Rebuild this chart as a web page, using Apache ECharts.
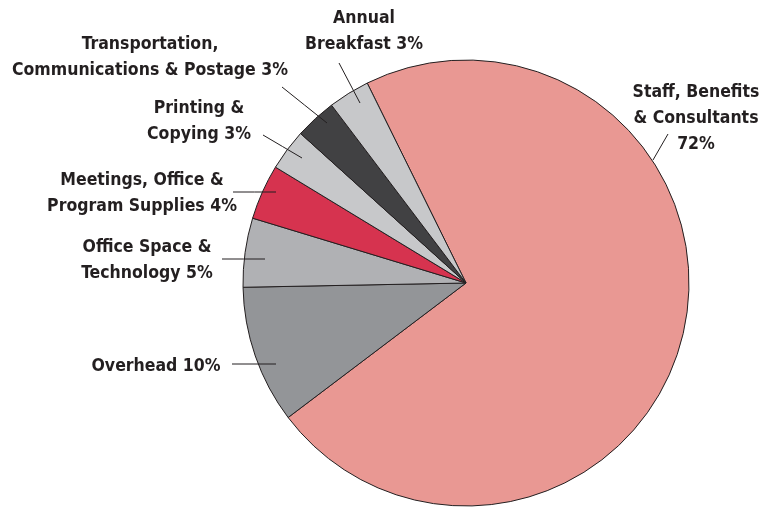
<!DOCTYPE html>
<html>
<head>
<meta charset="utf-8">
<script src="https://cdn.jsdelivr.net/npm/echarts@6/dist/echarts.min.js"></script>
<style>
  html, body { margin: 0; padding: 0; background: #fff; }
  #chart { width: 772px; height: 508px; }
</style>
</head>
<body>
<div id="chart"></div>
<script>
// budget shares, in percent, clockwise from the top
const categories = [
  "Staff, Benefits & Consultants",
  "Overhead",
  "Office Space & Technology",
  "Meetings, Office & Program Supplies",
  "Printing & Copying",
  "Transportation, Communications & Postage",
  "Annual Breakfast"
];
const shares = [72, 10, 5, 4, 3, 3, 3];
// label text as it is broken in the picture (the value is appended)
const labelText = [
  "Staff, Benefits\n& Consultants\n",
  "Overhead ",
  "Office Space &\nTechnology ",
  "Meetings, Office &\nProgram Supplies ",
  "Printing &\nCopying ",
  "Transportation,\nCommunications & Postage ",
  "Annual\nBreakfast "
];
const colors = ["#e99893", "#939598", "#b0b1b4", "#d6334f", "#c7c8ca", "#414143", "#c7c8ca"];

// where each label sits and where its pointer line runs (pixels)
const labelPlace = [
  { x: 696, y: 118, line: [[668, 134], [653, 160]] },
  { x: 156, y: 366, line: [[232, 364], [276, 364]] },
  { x: 147, y: 260, line: [[222, 259], [265, 259]] },
  { x: 142, y: 193, line: [[233, 192], [276, 192]] },
  { x: 199, y: 121, line: [[263, 135], [302, 158]] },
  { x: 150, y: 57, line: [[282, 87], [327, 123]] },
  { x: 364, y: 31, line: [[339, 63], [360, 103]] }
];

const chart = echarts.init(document.getElementById("chart"));

const pieBase = {
  type: "pie",
  center: [466, 283],
  radius: 223,
  startAngle: 116.3,
  clockwise: true,
  avoidLabelOverlap: false,
  silent: true
};

const option = {
  animation: false,
  backgroundColor: "#ffffff",
  series: [
    // the slices
    Object.assign({}, pieBase, {
      z: 2,
      itemStyle: { borderColor: "#231f20", borderWidth: 1 },
      label: { show: false },
      labelLine: { show: false },
      data: categories.map((name, i) => ({
        name: name,
        value: shares[i],
        itemStyle: { color: colors[i] }
      }))
    }),
    // same pie, invisible, only to put labels and pointer lines on top
    Object.assign({}, pieBase, {
      z: 3,
      itemStyle: { color: "rgba(0,0,0,0)", borderWidth: 0 },
      label: {
        show: true,
        position: "outside",
        color: "#231f20",
        fontFamily: '"Liberation Sans Narrow", "DejaVu Sans Condensed", "Arial Narrow", sans-serif',
        fontWeight: "bold",
        fontSize: 17.5,
        lineHeight: 26,
        align: "center",
        formatter: p => labelText[p.dataIndex] + p.value + "%"
      },
      labelLine: {
        show: true,
        showAbove: true,
        lineStyle: { color: "#231f20", width: 1 }
      },
      labelLayout: params => {
        const pl = labelPlace[params.dataIndex];
        const a = pl.line[0], b = pl.line[1];
        return {
          x: pl.x,
          y: pl.y,
          align: "center",
          verticalAlign: "middle",
          labelLinePoints: [a, [(a[0] + b[0]) / 2, (a[1] + b[1]) / 2], b]
        };
      },
      data: categories.map((name, i) => ({ name: name, value: shares[i] }))
    })
  ]
};

chart.setOption(option);
window.addEventListener("resize", () => chart.resize());
</script>
</body>
</html>
